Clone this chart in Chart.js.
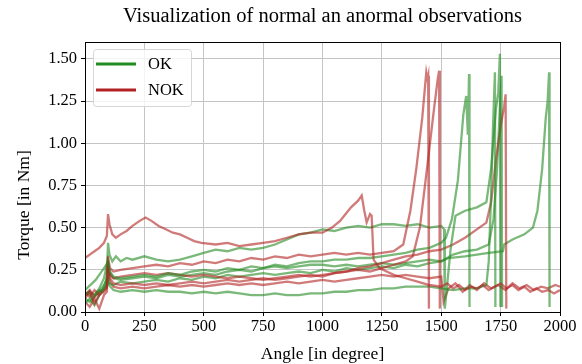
<!DOCTYPE html>
<html>
<head>
<meta charset="utf-8">
<script src="https://cdn.jsdelivr.net/npm/chart.js@4/dist/chart.umd.min.js"></script>
<style>
  body { margin: 0; background: #fff; }
  #wrap { width: 582px; height: 364px; }
</style>
</head>
<body>
<div id="wrap"><canvas id="chart" width="582" height="364"></canvas></div>
<script>
// torque curves, [angle in degree, torque in Nm]
const ok1 = [[0,0.13],[15,0.15],[30,0.17],[45,0.19],[60,0.22],[75,0.25],[90,0.28],[97,0.30],[105,0.24],[120,0.21],[150,0.20],[200,0.21],[250,0.22],[300,0.21],[350,0.23],[400,0.22],[450,0.24],[500,0.25],[550,0.24],[600,0.26],[650,0.25],[700,0.27],[750,0.26],[800,0.28],[850,0.27],[900,0.29],[950,0.30],[1000,0.30],[1050,0.31],[1100,0.31],[1150,0.32],[1200,0.32],[1250,0.33],[1300,0.34],[1350,0.35],[1400,0.37],[1450,0.38],[1500,0.41],[1520,0.44],[1545,0.55],[1570,0.78],[1593,1.17],[1605,1.28],[1612,1.05],[1617,1.41],[1619,0.03]];
const ok2 = [[0,0.05],[20,0.08],[40,0.04],[60,0.10],[80,0.15],[95,0.22],[100,0.16],[120,0.13],[150,0.12],[200,0.13],[250,0.12],[300,0.13],[350,0.12],[400,0.12],[450,0.11],[500,0.12],[550,0.11],[600,0.12],[650,0.11],[700,0.10],[750,0.10],[800,0.11],[850,0.10],[900,0.10],[950,0.11],[1000,0.11],[1050,0.12],[1100,0.12],[1150,0.13],[1200,0.13],[1250,0.14],[1300,0.14],[1350,0.15],[1400,0.15],[1450,0.15],[1500,0.14],[1550,0.13],[1600,0.14],[1650,0.14],[1690,0.16],[1700,0.30],[1710,0.70],[1718,1.10],[1726,1.42],[1728,0.03]];
const ok3 = [[0,0.10],[15,0.12],[30,0.08],[45,0.11],[60,0.13],[75,0.12],[90,0.16],[97,0.41],[103,0.34],[115,0.30],[130,0.33],[150,0.30],[175,0.32],[200,0.31],[250,0.33],[300,0.31],[350,0.30],[400,0.31],[450,0.33],[500,0.35],[550,0.37],[600,0.36],[650,0.38],[700,0.37],[750,0.38],[800,0.40],[850,0.43],[900,0.46],[950,0.47],[1000,0.49],[1050,0.48],[1100,0.50],[1150,0.51],[1200,0.50],[1250,0.52],[1300,0.52],[1350,0.51],[1400,0.52],[1450,0.50],[1500,0.51],[1512,0.49],[1515,0.02],[1540,0.38],[1560,0.57],[1600,0.60],[1650,0.62],[1690,0.65],[1710,0.85],[1730,1.20],[1740,1.30],[1747,1.53],[1749,0.03]];
const ok4 = [[0,0.08],[20,0.06],[40,0.09],[60,0.12],[80,0.16],[95,0.20],[100,0.17],[120,0.16],[150,0.18],[200,0.17],[250,0.18],[300,0.19],[350,0.18],[400,0.20],[450,0.19],[500,0.21],[550,0.20],[600,0.22],[650,0.21],[700,0.22],[750,0.23],[800,0.22],[850,0.23],[900,0.24],[950,0.23],[1000,0.25],[1050,0.24],[1100,0.26],[1150,0.25],[1200,0.26],[1250,0.27],[1300,0.26],[1350,0.28],[1400,0.27],[1450,0.29],[1500,0.30],[1530,0.32],[1600,0.33],[1650,0.34],[1700,0.35],[1760,0.36],[1765,0.40],[1800,0.43],[1850,0.46],[1886,0.50],[1905,0.60],[1925,0.85],[1940,1.15],[1948,1.25],[1954,1.42],[1956,0.03]];
const ok5 = [[0,0.10],[20,0.12],[40,0.10],[60,0.14],[80,0.20],[95,0.30],[100,0.24],[120,0.20],[150,0.19],[200,0.20],[250,0.21],[300,0.20],[350,0.22],[400,0.21],[450,0.22],[500,0.23],[550,0.22],[600,0.24],[650,0.25],[700,0.24],[750,0.26],[800,0.27],[850,0.26],[900,0.27],[950,0.28],[1000,0.28],[1050,0.27],[1100,0.28],[1150,0.27],[1200,0.28],[1250,0.29],[1300,0.28],[1350,0.29],[1400,0.30],[1450,0.31],[1500,0.30],[1550,0.34],[1600,0.36],[1650,0.37],[1700,0.40],[1720,0.55],[1735,0.85],[1745,1.15],[1754,1.40],[1756,0.03]];

const nok1 = [[0,0.32],[20,0.34],[40,0.36],[60,0.38],[80,0.41],[92,0.45],[97,0.58],[103,0.52],[115,0.46],[130,0.44],[150,0.46],[175,0.48],[200,0.51],[230,0.54],[255,0.56],[280,0.54],[310,0.51],[340,0.49],[370,0.47],[400,0.46],[430,0.44],[460,0.42],[490,0.41],[550,0.40],[600,0.41],[650,0.39],[700,0.40],[750,0.41],[800,0.42],[850,0.44],[900,0.46],[950,0.47],[1000,0.47],[1040,0.50],[1074,0.54],[1120,0.62],[1150,0.66],[1165,0.69],[1176,0.60],[1186,0.53],[1200,0.58],[1207,0.57],[1215,0.31],[1240,0.26],[1270,0.24],[1300,0.22],[1350,0.20],[1400,0.18],[1450,0.16],[1500,0.15],[1525,0.17],[1550,0.14],[1575,0.16],[1600,0.13],[1625,0.15],[1650,0.14],[1675,0.16],[1700,0.13],[1725,0.15],[1750,0.17],[1775,0.14],[1800,0.16],[1825,0.13],[1850,0.15],[1875,0.12],[1900,0.14],[1925,0.12],[1950,0.13],[1975,0.11],[2000,0.13]];
const nok2 = [[0,0.08],[20,0.12],[40,0.05],[60,0.10],[80,0.12],[92,0.14],[97,0.33],[105,0.26],[120,0.24],[150,0.25],[200,0.26],[250,0.27],[300,0.28],[350,0.27],[400,0.29],[450,0.28],[500,0.30],[550,0.29],[600,0.31],[650,0.30],[700,0.32],[750,0.31],[800,0.33],[850,0.32],[900,0.34],[950,0.33],[1000,0.34],[1050,0.35],[1100,0.34],[1150,0.35],[1200,0.34],[1250,0.35],[1300,0.36],[1340,0.40],[1370,0.60],[1395,0.85],[1420,1.15],[1437,1.42],[1442,1.38],[1445,1.40],[1448,0.02]];
const nok3 = [[0,0.06],[20,0.03],[40,0.08],[60,0.02],[80,0.10],[92,0.12],[97,0.30],[105,0.22],[120,0.20],[150,0.21],[200,0.22],[250,0.23],[300,0.22],[350,0.23],[400,0.22],[450,0.21],[500,0.22],[550,0.21],[600,0.20],[650,0.21],[700,0.20],[750,0.19],[800,0.20],[850,0.21],[900,0.22],[950,0.21],[1000,0.22],[1050,0.23],[1100,0.24],[1150,0.25],[1200,0.24],[1250,0.26],[1300,0.28],[1350,0.30],[1380,0.33],[1410,0.50],[1440,0.85],[1465,1.15],[1485,1.38],[1491,1.43],[1494,0.02]];
const nok4 = [[0,0.10],[20,0.13],[40,0.09],[60,0.12],[80,0.13],[92,0.15],[97,0.27],[105,0.20],[120,0.17],[150,0.16],[200,0.17],[250,0.16],[300,0.17],[350,0.16],[400,0.17],[450,0.18],[500,0.17],[550,0.18],[600,0.19],[650,0.18],[700,0.19],[750,0.20],[800,0.19],[850,0.20],[900,0.21],[950,0.22],[1000,0.21],[1050,0.23],[1100,0.24],[1150,0.26],[1200,0.27],[1250,0.29],[1300,0.31],[1350,0.33],[1400,0.34],[1450,0.36],[1500,0.37],[1550,0.40],[1600,0.44],[1650,0.49],[1690,0.53],[1710,0.65],[1730,0.90],[1750,1.10],[1765,1.22],[1771,1.29],[1774,0.02]];
const nok5 = [[0,0.12],[20,0.09],[40,0.13],[60,0.10],[80,0.14],[92,0.16],[97,0.25],[105,0.18],[120,0.15],[150,0.14],[200,0.15],[250,0.14],[300,0.15],[350,0.16],[400,0.15],[450,0.16],[500,0.15],[550,0.16],[600,0.17],[650,0.16],[700,0.17],[750,0.16],[800,0.17],[850,0.18],[900,0.17],[950,0.18],[1000,0.19],[1050,0.18],[1100,0.19],[1150,0.20],[1200,0.21],[1250,0.22],[1300,0.21],[1350,0.22],[1400,0.21],[1450,0.20],[1500,0.21],[1510,0.06],[1530,0.14],[1560,0.17],[1590,0.12],[1620,0.16],[1650,0.13],[1680,0.17],[1710,0.14],[1740,0.16],[1770,0.13],[1800,0.17],[1830,0.14],[1860,0.16],[1890,0.13],[1920,0.15],[1950,0.14],[1980,0.16],[2000,0.15]];

const xTicks = [0, 250, 500, 750, 1000, 1250, 1500, 1750, 2000];
const yTicks = [0, 0.25, 0.5, 0.75, 1.0, 1.25, 1.5];
const titleText = 'Visualization of normal an anormal observations';
const yLabel = 'Torque [in Nm]';

const GREEN = '#228b22';
const RED = '#b22222';
const SERIF = "'Liberation Serif', 'Times New Roman', serif";

function ds(points, color) {
  return {
    data: points.map(p => ({ x: p[0], y: p[1] })),
    borderColor: color + '99',
    borderWidth: 2.3,
    pointRadius: 0,
    fill: false,
    tension: 0,
  };
}

// matplotlib style: title over the axes, box round them, y label, legend upper left
const framePlugin = {
  id: 'frame',
  afterDraw(chart) {
    const ctx = chart.ctx;
    const a = chart.chartArea;
    ctx.save();
    ctx.strokeStyle = '#000';
    ctx.lineWidth = 1;
    ctx.strokeRect(a.left + 0.5, a.top + 0.5, a.right - a.left, a.bottom - a.top);

    ctx.fillStyle = '#000';
    ctx.font = '20.5px ' + SERIF;
    ctx.textAlign = 'center';
    ctx.textBaseline = 'middle';
    ctx.fillText(titleText, (a.left + a.right) / 2, 17);

    ctx.save();
    ctx.translate(24, 205);
    ctx.rotate(-Math.PI / 2);
    ctx.font = '17.5px ' + SERIF;
    ctx.fillText(yLabel, 0, 0);
    ctx.restore();

    const bx = a.left + 8, by = a.top + 7, bw = 98, bh = 57;
    ctx.fillStyle = 'rgba(255,255,255,0.8)';
    ctx.strokeStyle = '#d6d6d6';
    ctx.beginPath();
    ctx.roundRect(bx + 0.5, by + 0.5, bw, bh, 3);
    ctx.fill();
    ctx.stroke();

    const items = [['OK', GREEN], ['NOK', RED]];
    ctx.font = '16.5px ' + SERIF;
    ctx.textAlign = 'left';
    items.forEach((it, i) => {
      const y = by + 15 + i * 26;
      ctx.strokeStyle = it[1];
      ctx.lineWidth = 3;
      ctx.beginPath();
      ctx.moveTo(bx + 3, y);
      ctx.lineTo(bx + 43, y);
      ctx.stroke();
      ctx.fillStyle = '#000';
      ctx.fillText(it[0], bx + 55, y + 1);
    });
    ctx.restore();
  }
};

new Chart(document.getElementById('chart'), {
  type: 'line',
  data: {
    datasets: [
      ds(nok1, RED), ds(ok1, GREEN), ds(nok2, RED), ds(ok2, GREEN),
      ds(nok3, RED), ds(ok3, GREEN), ds(nok4, RED), ds(ok4, GREEN),
      ds(nok5, RED), ds(ok5, GREEN),
    ]
  },
  options: {
    responsive: false,
    animation: false,
    layout: { padding: { left: 0, right: 22, top: 42, bottom: 0 } },
    plugins: {
      legend: { display: false },
      tooltip: { enabled: false },
      title: { display: false },
    },
    scales: {
      x: {
        type: 'linear',
        min: 0,
        max: 2000,
        afterBuildTicks: s => { s.ticks = xTicks.map(v => ({ value: v })); },
        afterFit: s => { s.height = 52; },
        ticks: {
          color: '#000',
          font: { family: SERIF, size: 16.5 },
          padding: 1,
          maxRotation: 0,
          callback: v => String(v),
        },
        grid: { color: '#c4c4c4', tickColor: '#000', tickLength: 4 },
        border: { color: '#000' },
        title: {
          display: true,
          text: 'Angle [in degree]',
          color: '#000',
          font: { family: SERIF, size: 17.5 },
          padding: { top: 0, bottom: -1 },
        },
      },
      y: {
        min: 0,
        max: 1.6,
        afterBuildTicks: s => { s.ticks = yTicks.map(v => ({ value: v })); },
        afterFit: s => { s.width = 85; },
        ticks: {
          color: '#000',
          font: { family: SERIF, size: 16.5 },
          padding: 4,
          callback: v => Number(v).toFixed(2),
        },
        grid: { color: '#c4c4c4', tickColor: '#000', tickLength: 4 },
        border: { color: '#000' },
      },
    },
  },
  plugins: [framePlugin],
});
</script>
</body>
</html>
